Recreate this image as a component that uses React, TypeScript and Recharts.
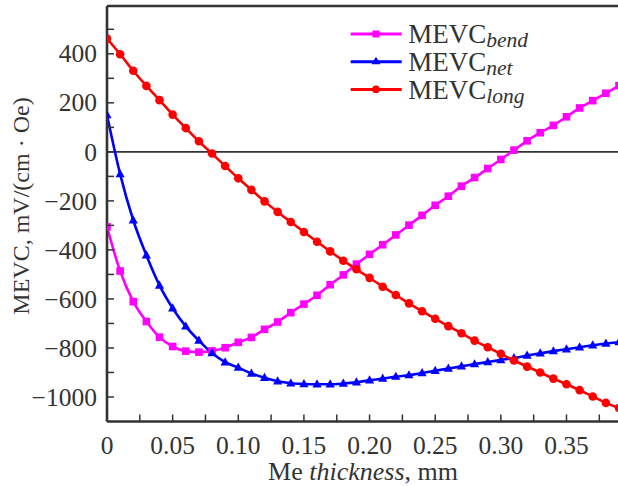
import React from "react";
import { LineChart, Line, XAxis, YAxis, ReferenceLine, Legend } from "recharts";

const thickness = [
  0, 0.01, 0.02, 0.03, 0.04, 0.05, 0.06, 0.07, 0.08, 0.09,
  0.1, 0.11, 0.12, 0.13, 0.14, 0.15, 0.16, 0.17, 0.18, 0.19,
  0.2, 0.21, 0.22, 0.23, 0.24, 0.25, 0.26, 0.27, 0.28, 0.29,
  0.3, 0.31, 0.32, 0.33, 0.34, 0.35, 0.36, 0.37, 0.38, 0.39,
];

const mevcBend = [
  -306, -486, -611, -692, -756, -794, -813, -817, -812, -799,
  -777, -757, -724, -694, -656, -621, -585, -542, -502, -458,
  -418, -379, -339, -299, -259, -218, -181, -140, -105, -68,
  -31, 7, 45, 78, 108, 143, 179, 209, 239, 270,
];

const mevcNet = [
  150, -91, -279, -422, -545, -638, -712, -770, -821, -858,
  -880, -904, -922, -936, -944, -947, -948, -948, -945, -940,
  -932, -925, -917, -911, -902, -893, -884, -875, -866, -857,
  -849, -841, -831, -822, -813, -805, -797, -789, -782, -776,
];

const mevcLong = [
  462, 398, 331, 269, 211, 152, 97, 43, -7, -58,
  -108, -155, -202, -245, -286, -327, -367, -406, -444, -479,
  -514, -550, -584, -618, -650, -681, -711, -740, -770, -797,
  -824, -851, -876, -900, -925, -948, -972, -998, -1024, -1045,
];

const xMajorTicks = [0, 0.05, 0.1, 0.15, 0.2, 0.25, 0.3, 0.35];
const xTickLabels = ["0", "0.05", "0.10", "0.15", "0.20", "0.25", "0.30", "0.35"];
const xMinorTicks = [0.025, 0.075, 0.125, 0.175, 0.225, 0.275, 0.325, 0.375];

const yMajorTicks = [-1000, -800, -600, -400, -200, 0, 200, 400];
const yTickLabels = ["\u22121000", "\u2212800", "\u2212600", "\u2212400", "\u2212200", "0", "200", "400"];
const yMinorTicks = [-900, -700, -500, -300, -100, 100, 300, 500];

const seriesNames = ["bend", "net", "long"];
const seriesColors = ["#ff00ff", "#0000ff", "#ff0000"];

const data = thickness.map((x, i) => ({
  x,
  bend: mevcBend[i],
  net: mevcNet[i],
  long: mevcLong[i],
}));

const X_DOMAIN: [number, number] = [0, 0.39];
const Y_DOMAIN: [number, number] = [-1100, 595];

const FONT = "'Liberation Serif', 'Times New Roman', 'DejaVu Serif', serif";
const INK = "#333333";

const findLabel = (v: number, ticks: number[], labels: string[]) => {
  const idx = ticks.findIndex((t) => Math.abs(t - v) < 1e-6);
  return idx >= 0 ? labels[idx] : null;
};

const XTick = (props: any) => {
  const { x, y, payload } = props;
  const label = findLabel(payload.value, xMajorTicks, xTickLabels);
  return (
    <g>
      <line x1={x} y1={y} x2={x} y2={y - 7} stroke={INK} strokeWidth={1.5} />
      {label !== null && (
        <text x={x} y={y + 32} textAnchor="middle" fontFamily={FONT} fontSize={25.5} fill={INK}>
          {label}
        </text>
      )}
    </g>
  );
};

const YTick = (props: any) => {
  const { x, y, payload } = props;
  const label = findLabel(payload.value, yMajorTicks, yTickLabels);
  return (
    <g>
      <line x1={x} y1={y} x2={x + 7} y2={y} stroke={INK} strokeWidth={1.5} />
      {label !== null && (
        <text x={x - 10} y={y} dy="0.34em" textAnchor="end" fontFamily={FONT} fontSize={25.5} fill={INK}>
          {label}
        </text>
      )}
    </g>
  );
};

const SquareDot = (p: any) => {
  const { cx, cy, index } = p;
  if (cx == null || cy == null) return <g key={`sq-${index}`} />;
  return <rect key={`sq-${index}`} x={cx - 3.8} y={cy - 3.8} width={7.6} height={7.6} fill={seriesColors[0]} />;
};

const TriangleDot = (p: any) => {
  const { cx, cy, index } = p;
  if (cx == null || cy == null) return <g key={`tr-${index}`} />;
  const pts = `${cx},${cy - 5} ${cx - 4.6},${cy + 3.2} ${cx + 4.6},${cy + 3.2}`;
  return <polygon key={`tr-${index}`} points={pts} fill={seriesColors[1]} />;
};

const CircleDot = (p: any) => {
  const { cx, cy, index } = p;
  if (cx == null || cy == null) return <g key={`ci-${index}`} />;
  return <circle key={`ci-${index}`} cx={cx} cy={cy} r={4.3} fill={seriesColors[2]} />;
};

const legendMarker = (i: number, cx: number, cy: number) => {
  const c = seriesColors[i];
  if (i === 0) return <rect x={cx - 3.5} y={cy - 3.5} width={7} height={7} fill={c} />;
  if (i === 1) return <polygon points={`${cx},${cy - 5} ${cx - 4.5},${cy + 2.5} ${cx + 4.5},${cy + 2.5}`} fill={c} />;
  return <circle cx={cx} cy={cy} r={3.8} fill={c} />;
};

const LegendContent = () => (
  <svg width={200} height={95} style={{ display: "block", overflow: "visible" }}>
    {seriesNames.map((name, i) => {
      const cy = 19 + i * 27.7;
      return (
        <g key={name}>
          <line x1={5.7} y1={cy} x2={56.7} y2={cy} stroke={seriesColors[i]} strokeWidth={3} />
          {legendMarker(i, 31, cy)}
          <text x={63.3} y={cy + 9.3} fontFamily={FONT} fontSize={27} fill={INK}>
            MEVC
            <tspan fontStyle="italic" fontSize={21.5} dy={4}>
              {name}
            </tspan>
          </text>
        </g>
      );
    })}
  </svg>
);

const YLabel = (props: any) => {
  const vb = props.viewBox || {};
  const cx = (vb.x ?? 0) + 28.5;
  const cy = 206;
  return (
    <text
      x={cx}
      y={cy}
      transform={`rotate(-90, ${cx}, ${cy})`}
      textAnchor="middle"
      fontFamily={FONT}
      fontSize={24}
      fill={INK}
    >
      MEVC, mV/(cm · Oe)
    </text>
  );
};

const XLabel = (props: any) => {
  const vb = props.viewBox || {};
  const cx = 363;
  const y = (vb.y ?? 421.5) + 58.5;
  return (
    <text x={cx} y={y} textAnchor="middle" fontFamily={FONT} fontSize={26} fill={INK}>
      Me <tspan fontStyle="italic">thickness</tspan>, mm
    </text>
  );
};

export default function App() {
  return (
    <div
      style={{
        position: "absolute",
        left: 0,
        top: 0,
        width: 618,
        height: 486,
        overflow: "hidden",
        background: "#ffffff",
      }}
    >
      <LineChart width={622} height={486} data={data} margin={{ top: 6, right: 3, bottom: 0, left: 0 }}>
        <XAxis
          dataKey="x"
          type="number"
          domain={X_DOMAIN}
          allowDataOverflow
          ticks={[...xMajorTicks, ...xMinorTicks].sort((a, b) => a - b)}
          interval={0}
          tick={<XTick />}
          tickLine={false}
          tickSize={0}
          tickMargin={0}
          height={64.5}
          axisLine={{ stroke: INK, strokeWidth: 2.6 }}
          label={<XLabel />}
        />
        <YAxis
          type="number"
          domain={Y_DOMAIN}
          allowDataOverflow
          ticks={[...yMajorTicks, ...yMinorTicks].sort((a, b) => a - b)}
          interval={0}
          tick={<YTick />}
          tickLine={false}
          tickSize={0}
          tickMargin={0}
          width={107}
          axisLine={{ stroke: INK, strokeWidth: 2.6 }}
          label={<YLabel />}
        />
        <ReferenceLine y={0} stroke={INK} strokeWidth={1.6} />
        <ReferenceLine y={Y_DOMAIN[1]} stroke={INK} strokeWidth={2.6} />
        <Line
          dataKey="bend"
          type="monotone"
          stroke={seriesColors[0]}
          strokeWidth={2.6}
          dot={SquareDot}
          activeDot={false}
          isAnimationActive={false}
        />
        <Line
          dataKey="net"
          type="monotone"
          stroke={seriesColors[1]}
          strokeWidth={2.6}
          dot={TriangleDot}
          activeDot={false}
          isAnimationActive={false}
        />
        <Line
          dataKey="long"
          type="monotone"
          stroke={seriesColors[2]}
          strokeWidth={2.6}
          dot={CircleDot}
          activeDot={false}
          isAnimationActive={false}
        />
        <Legend
          layout="vertical"
          align="center"
          verticalAlign="middle"
          content={<LegendContent />}
          wrapperStyle={{ left: 345, top: 15, width: 200, height: 95 }}
        />
      </LineChart>
    </div>
  );
}
